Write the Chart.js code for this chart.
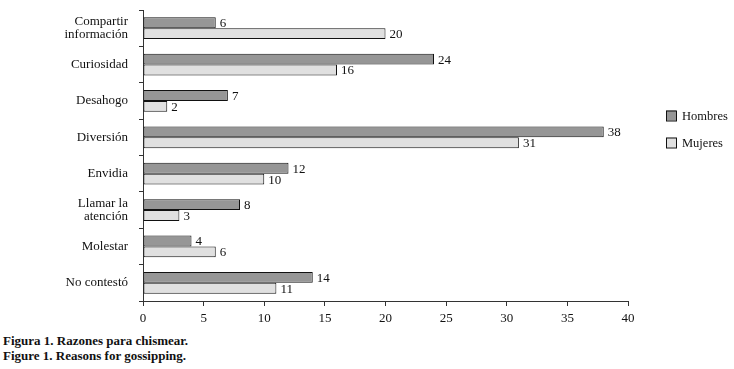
<!DOCTYPE html>
<html>
<head>
<meta charset="utf-8">
<script src="https://cdn.jsdelivr.net/npm/chart.js@4.4.0/dist/chart.umd.min.js"></script>
<style>
  body { margin: 0; background: #fff; }
  #wrap { position: relative; width: 734px; height: 369px; }
  #box { position: absolute; left: 0; top: 0; width: 734px; height: 330px; }
  .cap { position: absolute; left: 3px; font: bold 13px "Liberation Serif", "Times New Roman", serif; color: #111; line-height: 15px; }
</style>
</head>
<body>
<div id="wrap">
  <div id="box"><canvas id="chart"></canvas></div>
  <div class="cap" style="top:333px">Figura 1. Razones para chismear.</div>
  <div class="cap" style="top:348px">Figure 1. Reasons for gossipping.</div>
</div>
<script>
// Data
const categories = [
  ['Compartir', 'información'],
  'Curiosidad',
  'Desahogo',
  'Diversión',
  'Envidia',
  ['Llamar la', 'atención'],
  'Molestar',
  'No contestó'
];
const hombres = [6, 24, 7, 38, 12, 8, 4, 14];
const mujeres = [20, 16, 2, 31, 10, 3, 6, 11];
const seriesNames = ['Hombres', 'Mujeres'];
const xTicks = [0, 5, 10, 15, 20, 25, 30, 35, 40];

const FONT = '"Liberation Serif", "Times New Roman", serif';
const fills = ['#969696', '#e0e0e0'];

// Value labels at end of bars
const valueLabels = {
  id: 'valueLabels',
  afterDatasetsDraw(chart) {
    const ctx = chart.ctx;
    ctx.save();
    ctx.font = '13px ' + FONT;
    ctx.fillStyle = '#111';
    ctx.textBaseline = 'middle';
    ctx.textAlign = 'left';
    chart.data.datasets.forEach((ds, i) => {
      chart.getDatasetMeta(i).data.forEach((bar, j) => {
        ctx.fillText(ds.data[j], bar.x + 4, bar.y + 1);
      });
    });
    ctx.restore();
  }
};

// Legend on the right
const sideLegend = {
  id: 'sideLegend',
  afterDraw(chart) {
    const ctx = chart.ctx;
    const area = chart.chartArea;
    const x = area.right + 38;
    const y0 = (area.top + area.bottom) / 2 - 40;
    ctx.save();
    ctx.font = '12.5px ' + FONT;
    ctx.textBaseline = 'middle';
    chart.data.datasets.forEach((ds, i) => {
      const y = y0 + i * 27;
      ctx.fillStyle = ds.backgroundColor;
      ctx.fillRect(x, y - 5, 10, 10);
      ctx.strokeStyle = '#111';
      ctx.lineWidth = 1;
      ctx.strokeRect(x + 0.5, y - 4.5, 10, 10);
      ctx.fillStyle = '#111';
      ctx.fillText(ds.label, x + 16, y + 1);
    });
    ctx.restore();
  }
};

function draw() {
  new Chart(document.getElementById('chart'), {
    type: 'bar',
    data: {
      labels: categories,
      datasets: [
        { label: seriesNames[0], data: hombres, backgroundColor: fills[0] },
        { label: seriesNames[1], data: mujeres, backgroundColor: fills[1] }
      ].map(ds => Object.assign(ds, {
        borderColor: '#111',
        borderWidth: 1,
        borderSkipped: false,
        categoryPercentage: 0.6,
        barPercentage: 1.0
      }))
    },
    options: {
      indexAxis: 'y',
      responsive: true,
      maintainAspectRatio: false,
      animation: false,
      layout: { padding: { left: 0, right: 106, top: 10, bottom: 0 } },
      plugins: {
        legend: { display: false },
        tooltip: { enabled: false }
      },
      scales: {
        x: {
          min: 0,
          max: 40,
          afterBuildTicks: scale => { scale.ticks = xTicks.map(v => ({ value: v })); },
          afterFit: scale => { scale.height = 29; scale.paddingLeft = 0; scale.paddingRight = 0; },
          grid: { drawOnChartArea: false, tickLength: 5, color: '#333' },
          border: { color: '#333' },
          ticks: { font: { family: FONT, size: 13 }, color: '#111', padding: 5 }
        },
        y: {
          afterFit: scale => { scale.width = 143; scale.paddingTop = 0; scale.paddingBottom = 0; },
          grid: { drawOnChartArea: false, tickLength: 4, color: '#333', offset: true },
          border: { color: '#333' },
          ticks: { font: { family: FONT, size: 13, lineHeight: 1.0 }, color: '#111', padding: 11 }
        }
      }
    },
    plugins: [valueLabels, sideLegend]
  });
}

document.fonts.load('13px "Liberation Serif"').then(draw, draw);
</script>
</body>
</html>
